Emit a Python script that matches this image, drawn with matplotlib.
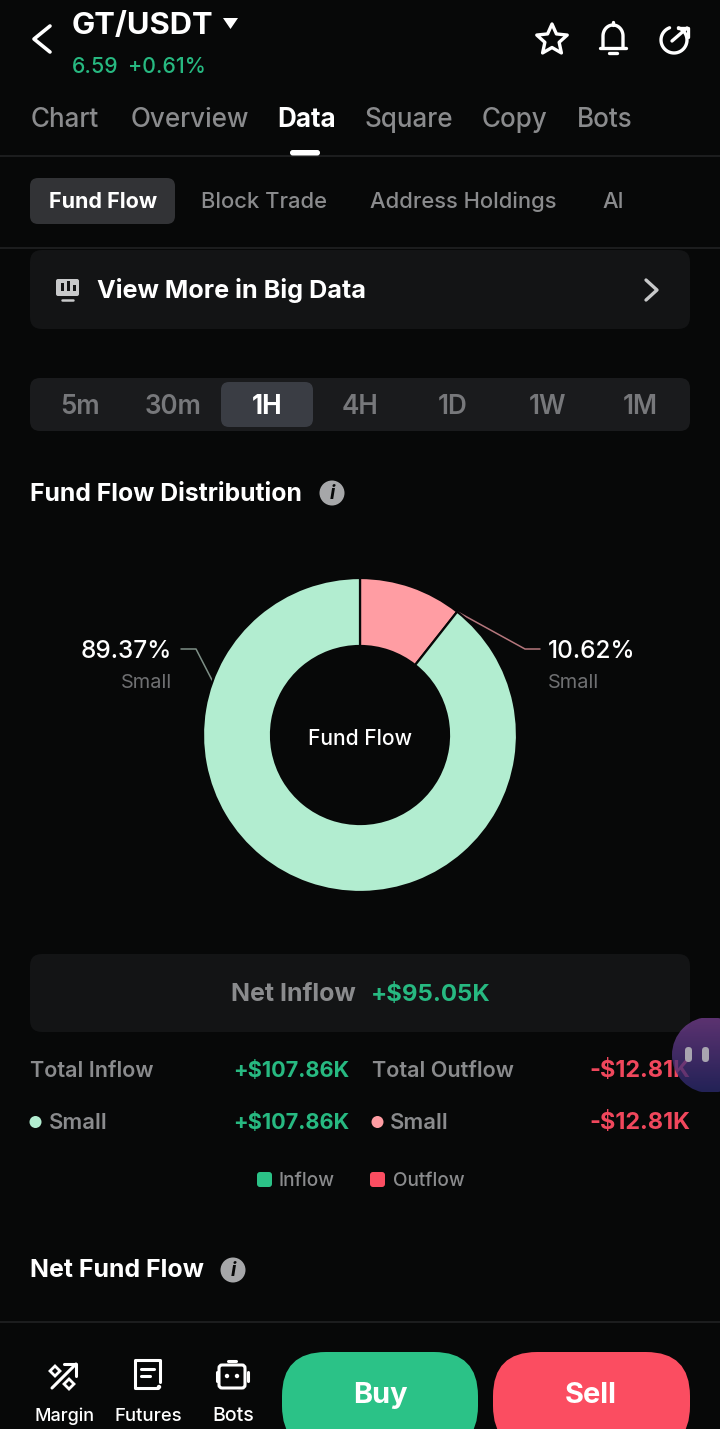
import numpy as np
import matplotlib
matplotlib.use('Agg')
import matplotlib.pyplot as plt
from matplotlib.patches import FancyBboxPatch, Circle, Polygon, Rectangle

plt.rcParams['font.family'] = ['Inter', 'DejaVu Sans']

# chart values
flow_labels = ['Small', 'Small']
flow_shares = [10.62, 89.37]
flow_colors = ['#ff9da3', '#b2edd0']
net_inflow = '+$95.05K'
total_inflow = '+$107.86K'
total_outflow = '-$12.81K'
small_inflow = '+$107.86K'
small_outflow = '-$12.81K'

# page text
main_tabs = ['Chart', 'Overview', 'Data', 'Square', 'Copy', 'Bots']
main_tab_x = [31, 131, 277, 365, 482, 577]
sub_tabs = ['Fund Flow', 'Block Trade', 'Address Holdings', 'AI']
sub_tab_x = [49, 201, 370, 602]
periods = ['5m', '30m', '1H', '4H', '1D', '1W', '1M']
period_x = [80, 173, 267, 360, 453, 547, 640]
nav_labels = ['Margin', 'Futures', 'Bots']
nav_x = [64, 148, 233]

BG = '#070808'
GREEN = '#27b981'
RED = '#f0475c'
GREY = '#8a8b8d'
WHITE = '#ffffff'

fig = plt.figure(figsize=(7.2, 14.29), dpi=100, facecolor=BG)
ax = fig.add_axes([0, 0, 1, 1])
ax.set_xlim(0, 720)
ax.set_ylim(1429, 0)
ax.axis('off')


def txt(x, y, s, px, color=WHITE, ha='left', weight=500, z=5):
    # size given in pixels, y is the baseline
    return ax.text(x, y, s, fontsize=px * 0.72, color=color, ha=ha, va='baseline',
                   fontweight=weight, zorder=z)


def box(x0, y0, x1, y1, r, color, z=1):
    ax.add_patch(FancyBboxPatch((x0, y0), x1 - x0, y1 - y0,
                                boxstyle=f'round,pad=0,rounding_size={r}',
                                fc=color, ec='none', zorder=z))


def line(xs, ys, color=WHITE, lw=2.0, z=5):
    ax.plot(xs, ys, color=color, lw=lw, solid_capstyle='round',
            solid_joinstyle='round', zorder=z)


def info_icon(x, y):
    ax.add_patch(Circle((x, y), 12.5, fc='#a6a7a9', ec='none', zorder=4))
    ax.text(x, y + 0.5, 'i', fontsize=14, color=BG, ha='center', va='center',
            fontweight='bold', fontstyle='italic', zorder=5)


# header
line([50, 34, 50], [26, 39, 52], lw=2.6)
txt(72, 34, 'GT/USDT', 31, weight='bold')
ax.add_patch(Polygon([[223, 18], [238, 18], [230.5, 29]], fc=WHITE, ec='none', zorder=5))
txt(72, 73, '6.59', 21.3, GREEN)
txt(128, 73, '+0.61%', 21.3, GREEN)

# star icon
star_a = np.deg2rad(np.arange(10) * 36 - 90)
star_r = np.array([16, 7.5] * 5)
ax.add_patch(Polygon(np.c_[552 + star_r * np.cos(star_a), 40 + star_r * np.sin(star_a)],
                     fc='none', ec=WHITE, lw=2.4, joinstyle='round', zorder=5))
# bell icon
t = np.linspace(np.pi, 2 * np.pi, 30)
line(np.r_[603, 603, 613 + 10 * np.cos(t), 623, 623],
     np.r_[48, 36, 36 + 11 * np.sin(t), 36, 48], lw=2.4)
line([600, 626], [48, 48], lw=2.4)
line([609, 617], [53, 53], lw=2.4)
line([613, 613], [22, 25], lw=2.4)
# share icon
t = np.deg2rad(np.linspace(-70, 250, 40))
line(674 + 13 * np.cos(t), 40 + 13 * np.sin(t), lw=2.4)
line([672, 687], [41, 28], lw=2.4)
line([678, 688, 688], [28, 28, 37], lw=2.4)

# main tabs
for name, x in zip(main_tabs, main_tab_x):
    active = name == 'Data'
    txt(x, 127, name, 26, WHITE if active else GREY, weight='bold' if active else 500)
box(290, 150, 320, 155.5, 2.7, WHITE, z=3)
ax.add_patch(Rectangle((0, 155), 720, 1.5, fc='#1c1d1e', ec='none', zorder=2))

# sub tabs
box(30, 178, 175, 224, 8, '#323336')
for name, x in zip(sub_tabs, sub_tab_x):
    active = name == 'Fund Flow'
    txt(x, 208, name, 21.5 if active else 22, WHITE if active else GREY,
        weight='bold' if active else 500)
ax.add_patch(Rectangle((0, 247), 720, 1.5, fc='#1c1d1e', ec='none', zorder=2))

# big data card
box(30, 250, 690, 329, 12, '#131415')
box(56, 279, 79, 296, 2, '#c8c9ca', z=3)
ax.add_patch(Rectangle((61, 283), 3, 8, fc='#131415', ec='none', zorder=4))
ax.add_patch(Rectangle((67, 281), 3, 10, fc='#131415', ec='none', zorder=4))
ax.add_patch(Rectangle((73, 285), 3, 6, fc='#131415', ec='none', zorder=4))
line([62, 73], [300, 300], '#c8c9ca', lw=1.8, z=3)
txt(97, 298, 'View More in Big Data', 25.2, weight='bold')
line([646, 657, 646], [280, 290, 300], '#c8c9ca', lw=2.4)

# period selector
box(30, 378, 690, 431, 10, '#1a1b1d')
box(221, 382, 313, 427, 8, '#3a3d44', z=2)
for name, x in zip(periods, period_x):
    active = name == '1H'
    txt(x, 414, name, 26, WHITE if active else '#77787b', ha='center',
        weight='bold' if active else 600)

# donut
txt(30, 501, 'Fund Flow Distribution', 24.8, weight='bold')
info_icon(332, 493)
cx, cy, R = 360, 735, 157
pie_ax = fig.add_axes([(cx - R) / 720, 1 - (cy + R) / 1429, 2 * R / 720, 2 * R / 1429])
pie_ax.pie(flow_shares, colors=flow_colors, startangle=90, counterclock=False, radius=1,
           wedgeprops=dict(width=1 - 89 / 157, edgecolor=BG, linewidth=1.6))
pie_ax.set_xlim(-1, 1)
pie_ax.set_ylim(-1, 1)
pie_ax.patch.set_alpha(0)

# leader lines
end_angle = np.deg2rad(flow_shares[0] / 100 * 360)
line([cx + R * np.sin(end_angle), 525, 540], [cy - R * np.cos(end_angle), 649, 649],
     '#b5777d', lw=1.1)
line([213, 196, 181], [682, 649, 649], '#7d8f86', lw=1.1)
txt(172, 658, f'{flow_shares[1]:.2f}%', 24.3, ha='right')
txt(172, 688, flow_labels[1], 20, '#6f7072', ha='right', weight='normal')
txt(548, 658, f'{flow_shares[0]:.2f}%', 24.3)
txt(548, 688, flow_labels[0], 20, '#6f7072', weight='normal')
txt(360, 745, 'Fund Flow', 21, ha='center')

# net inflow card
box(30, 954, 690, 1032, 12, '#131415')
txt(231, 1001, 'Net Inflow', 25, GREY, weight='bold')
txt(371, 1001, net_inflow, 24, GREEN, weight='bold')

# totals
txt(30, 1077, 'Total Inflow', 21.6, GREY, weight=600)
txt(349, 1077, total_inflow, 21.7, GREEN, ha='right', weight='bold')
txt(372, 1077, 'Total Outflow', 21.6, GREY, weight=600)
txt(690, 1077, total_outflow, 23.4, RED, ha='right', weight='bold')
ax.add_patch(Circle((35.5, 1122), 6, fc=flow_colors[1], ec='none', zorder=4))
txt(49, 1129, flow_labels[1], 22, GREY, weight=600)
txt(349, 1129, small_inflow, 21.7, GREEN, ha='right', weight='bold')
ax.add_patch(Circle((377.5, 1122), 6, fc=flow_colors[0], ec='none', zorder=4))
txt(390, 1129, flow_labels[0], 22, GREY, weight=600)
txt(690, 1129, small_outflow, 23.4, RED, ha='right', weight='bold')

# legend
box(257, 1172, 272, 1187, 3, '#2bc287')
txt(279, 1186, 'Inflow', 19, GREY)
box(370, 1172, 385, 1187, 3, '#fb4d61')
txt(393, 1186, 'Outflow', 19, GREY)

# net fund flow
txt(30, 1277, 'Net Fund Flow', 24.9, weight='bold')
info_icon(233, 1270)

# floating bubble, gradient clipped to a circle
grad = np.linspace(0, 1, 80)[:, None]
top = np.array([0x74, 0x3f, 0x8f]) / 255
bot = np.array([0x2c, 0x2a, 0x6e]) / 255
rgb = top[None, :] * (1 - grad) + bot[None, :] * grad
bubble = ax.imshow(rgb[:, None, :], extent=(672, 720, 1092, 1018), aspect='auto',
                   zorder=6, alpha=0.78)
bubble.set_clip_path(Circle((710, 1055), 38, transform=ax.transData))
ax.set_xlim(0, 720)
ax.set_ylim(1429, 0)
box(685, 1047, 692, 1062, 3.5, '#a8a5b0', z=7)
box(702, 1047, 709, 1062, 3.5, '#a8a5b0', z=7)

# bottom bar
ax.add_patch(Rectangle((0, 1321), 720, 1.5, fc='#1c1d1e', ec='none', zorder=2))
for name, x, size in zip(nav_labels, nav_x, [18, 18.5, 19.5]):
    txt(x, 1421, name, size, ha='center')
# margin icon
line([52, 76], [1388, 1364], lw=2.2)
line([64, 76, 76], [1364, 1364, 1376], lw=2.2)
ax.add_patch(Polygon([[55, 1366], [60, 1371], [55, 1376], [50, 1371]], fc='none', ec=WHITE, lw=2, zorder=5))
ax.add_patch(Polygon([[69, 1379], [74, 1384], [69, 1389], [64, 1384]], fc='none', ec=WHITE, lw=2, zorder=5))
# futures icon
line([159, 135, 135, 158], [1360, 1360, 1388, 1388], lw=2.2)
line([160, 160], [1360, 1382], lw=2.2)
line([141, 154], [1369, 1369], lw=2.2)
line([141, 150], [1376, 1376], lw=2.2)
ax.add_patch(Circle((159, 1387), 2.2, fc=WHITE, ec='none', zorder=5))
# bots icon
ax.add_patch(FancyBboxPatch((219, 1365), 26, 23, boxstyle='round,pad=0,rounding_size=3',
                            fc='none', ec=WHITE, lw=2.2, zorder=5))
line([228, 236], [1361, 1361], lw=2.2)
line([216.5, 216.5], [1372, 1381], lw=2.2)
line([247.5, 247.5], [1372, 1381], lw=2.2)
ax.add_patch(Circle((227, 1376), 2.2, fc=WHITE, ec='none', zorder=5))
ax.add_patch(Circle((237, 1376), 2.2, fc=WHITE, ec='none', zorder=5))

# buttons run off the bottom edge
box(282, 1352, 478, 1450, 44, '#2bc287')
box(493, 1352, 690, 1450, 44, '#fb4d61')
txt(380, 1403, 'Buy', 29, ha='center', weight='bold')
txt(591, 1403, 'Sell', 29, ha='center', weight='bold')

fig.savefig('out.png', dpi=100, facecolor=BG)
